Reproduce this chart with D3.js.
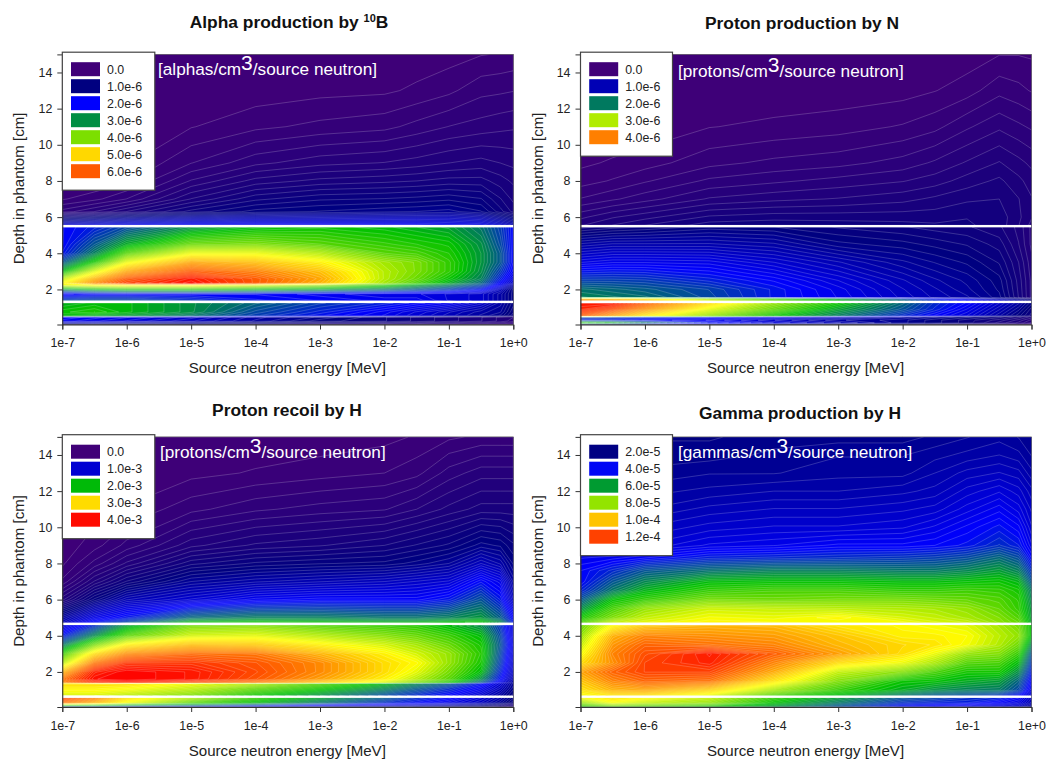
<!DOCTYPE html>
<html>
<head>
<meta charset="utf-8">
<script src="https://cdn.jsdelivr.net/npm/d3@7"></script>
<style>
  html, body { margin: 0; background: #fff; }
  svg { display: block; font-family: "Liberation Sans", Arial, sans-serif; }
  .axis text { font-size: 12.4px; fill: #222; }
  .axis path, .axis line { stroke: #333; stroke-width: 1; }
  .lab { font-size: 15.1px; fill: #222; }
  .title { font-size: 17.4px; font-weight: bold; fill: #111; }
  .unit { font-size: 17.2px; fill: #fff; }
  .leg { font-size: 12.4px; fill: #222; }
</style>
</head>
<body>
<svg width="1046" height="763"></svg>
<script>
// columns of every table below: log10 of the source energy [MeV]
var energyExps = [-7, -6.5, -6, -5, -4, -3, -2, -1.5, -1, -0.5, -0.2, 0];
var tickExps = [-7, -6, -5, -4, -3, -2, -1, 0];
var tickLabels = ["1e-7", "1e-6", "1e-5", "1e-4", "1e-3", "1e-2", "1e-1", "1e+0"];
var depthTicks = [2, 4, 6, 8, 10, 12, 14];

// alpha production, 1e-6 per cm3 per source neutron, one list per energy column
var alphaDepths = [15, 13, 11, 9, 8, 7, 6.3, 5.55, 5.45, 4.5, 4, 3.5, 3, 2.6, 2.35, 2.25, 2, 1.75, 1.4, 1.25, 0.75, 0.55, 0.47, 0.25, 0.05];
var alphaByEnergy = [
  [0, 0, 0, .01, .03, .14, .33, 1.6, 2.0, 2.0, 2.1, 2.6, 3.3, 4.3, 4.7, 4.6, 3.0, 1.9, 2.4, 3.2, 3.4, 3.3, 2.0, 1.9, .8],
  [0, 0, .005, .03, .07, .2, .45, 1.7, 2.2, 2.6, 2.9, 3.5, 4.5, 5.3, 5.6, 4.8, 3.3, 2.0, 2.5, 3.3, 3.5, 3.2, 1.9, 1.8, .8],
  [0, 0, .01, .06, .13, .3, .6, 1.8, 2.5, 3.2, 3.8, 4.6, 5.4, 6.0, 6.2, 4.9, 3.5, 2.0, 2.5, 3.3, 3.3, 3.1, 1.8, 1.7, .75],
  [0, .01, .07, .22, .38, .6, .85, 1.9, 3.0, 3.9, 4.6, 5.4, 6.0, 6.5, 6.6, 4.9, 3.5, 2.0, 2.3, 3.0, 3.0, 2.8, 1.6, 1.5, .7],
  [0, .03, .13, .35, .55, .8, 1.0, 1.9, 3.3, 4.0, 4.6, 5.2, 5.7, 6.0, 6.0, 4.6, 3.3, 2.0, 2.1, 2.7, 2.5, 2.4, 1.3, 1.25, .6],
  [.01, .05, .17, .42, .62, .88, 1.05, 1.9, 3.4, 3.8, 4.3, 4.8, 5.2, 5.4, 5.3, 4.2, 3.1, 1.9, 2.0, 2.4, 2.2, 2.1, 1.1, 1.0, .5],
  [.015, .06, .2, .45, .65, .9, 1.1, 1.9, 3.3, 3.6, 3.8, 4.2, 4.3, 4.3, 4.2, 3.6, 2.8, 1.8, 1.9, 2.2, 1.9, 1.85, .9, .9, .45],
  [.025, .09, .25, .48, .67, .92, 1.12, 1.9, 3.2, 3.5, 3.7, 4.0, 4.0, 3.9, 3.7, 3.2, 2.6, 1.8, 1.9, 2.05, 1.7, 1.65, .8, .8, .4],
  [.04, .13, .3, .52, .7, .95, 1.15, 1.85, 3.1, 3.4, 3.5, 3.6, 3.6, 3.4, 3.2, 2.9, 2.4, 1.7, 1.7, 1.9, 1.5, 1.45, .7, .7, .35],
  [.07, .2, .33, .55, .7, .9, 1.05, 1.8, 2.8, 3.0, 3.05, 3.05, 3.0, 2.9, 2.7, 2.5, 2.1, 1.6, 1.6, 1.6, 1.3, 1.25, .6, .6, .3],
  [.08, .21, .35, .52, .63, .75, .85, 1.6, 2.4, 2.5, 2.6, 2.6, 2.4, 2.2, 2.0, 1.9, 1.5, 1.3, 1.3, 1.3, 1.2, 1.1, .5, .5, .25],
  [.09, .22, .36, .5, .58, .65, .72, 1.4, 2.0, 2.0, 2.0, 2.0, 1.9, 1.7, 1.5, 1.3, 1.0, 1.0, 1.0, 1.0, .9, .85, .45, .4, .2]
];

// proton production by N, 1e-6
var nitroDepths = [15, 13, 11, 9, 8, 7, 6, 5.55, 5.45, 4.5, 3.5, 2.5, 2, 1.55, 1.46, 1.38, 1.25, 0.9, 0.55, 0.48, 0.3, 0.15, 0.05];
var nitroByEnergy = [
  [0, 0, 0, .04, .08, .16, .3, .36, .55, .9, 1.25, 1.7, 1.95, 2.05, 3.8, 3.9, 4.6, 4.5, 4.2, 1.8, 1.5, 2.5, 1.0],
  [0, 0, .005, .06, .11, .2, .36, .42, .6, .95, 1.3, 1.7, 1.9, 2.0, 3.7, 3.8, 4.6, 4.3, 3.8, 1.7, 1.5, 2.3, 1.0],
  [0, 0, .015, .08, .15, .24, .4, .47, .63, .95, 1.3, 1.68, 1.85, 1.95, 3.5, 3.6, 4.2, 3.9, 3.4, 1.6, 1.4, 2.0, .9],
  [0, .01, .05, .14, .22, .32, .48, .55, .7, .95, 1.28, 1.55, 1.72, 1.75, 3.0, 3.1, 3.5, 3.2, 2.9, 1.5, 1.3, 1.5, .8],
  [0, .015, .065, .17, .25, .35, .5, .56, .68, .9, 1.15, 1.4, 1.5, 1.5, 2.6, 2.7, 2.9, 2.7, 2.4, 1.3, 1.1, 1.2, .7],
  [0, .02, .08, .19, .28, .37, .5, .55, .62, .75, 1.0, 1.2, 1.28, 1.3, 2.2, 2.3, 2.4, 2.2, 2.0, 1.1, .9, 1.0, .5],
  [.005, .03, .11, .23, .31, .4, .5, .54, .58, .7, .85, 1.0, 1.05, 1.08, 1.8, 1.9, 1.9, 1.8, 1.6, .9, .8, .8, .4],
  [.01, .05, .14, .27, .34, .43, .5, .53, .55, .66, .78, .9, .95, .98, 1.5, 1.6, 1.6, 1.55, 1.4, .8, .7, .7, .35],
  [.02, .08, .2, .32, .39, .46, .52, .53, .53, .62, .72, .82, .85, .9, 1.3, 1.4, 1.4, 1.3, 1.2, .7, .6, .6, .3],
  [.05, .14, .25, .37, .43, .47, .5, .5, .48, .55, .62, .7, .72, .75, 1.0, 1.1, 1.1, 1.0, .9, .6, .5, .45, .2],
  [.05, .12, .22, .33, .38, .42, .43, .42, .4, .42, .47, .5, .51, .52, .8, .9, .9, .8, .7, .5, .4, .35, .2],
  [.045, .1, .2, .3, .34, .37, .37, .35, .3, .3, .33, .35, .35, .35, .6, .7, .7, .6, .55, .4, .3, .25, .1]
];

// proton recoil by H, 1e-3
var recoilDepths = [15, 13, 11, 9, 8, 7, 6, 5, 4.75, 4.55, 4, 3.5, 3, 2.5, 2, 1.6, 1.42, 1.38, 1.1, 0.68, 0.58, 0.3, 0.1, 0];
var recoilByEnergy = [
  [0, 0, 0, .015, .035, .1, .3, .75, .85, 1.0, 1.3, 1.7, 2.2, 2.6, 3.2, 3.5, 3.4, 3.0, 2.9, 2.7, 3.8, 3.5, 1.6, .6],
  [0, 0, .02, .07, .15, .32, .6, 1.1, 1.25, 1.4, 1.8, 2.4, 3.0, 3.5, 3.9, 4.0, 3.8, 3.0, 2.9, 2.7, 3.5, 3.2, 1.6, .6],
  [0, .005, .05, .15, .28, .5, .85, 1.3, 1.5, 1.9, 2.3, 2.9, 3.4, 3.8, 4.05, 4.05, 3.9, 3.0, 2.85, 2.6, 3.0, 2.8, 1.5, .6],
  [.005, .03, .12, .3, .48, .72, 1.0, 1.65, 2.0, 2.4, 2.7, 3.15, 3.55, 3.8, 3.95, 3.95, 3.7, 2.8, 2.65, 2.4, 2.6, 2.3, 1.4, .5],
  [.01, .05, .17, .37, .55, .8, 1.15, 1.75, 2.05, 2.45, 2.75, 3.1, 3.5, 3.65, 3.7, 3.65, 3.45, 2.6, 2.35, 2.05, 2.2, 2.0, 1.2, .5],
  [.015, .07, .2, .4, .58, .85, 1.2, 1.75, 2.0, 2.3, 2.6, 2.9, 3.2, 3.4, 3.4, 3.3, 3.1, 2.3, 2.1, 1.8, 1.9, 1.7, 1.0, .4],
  [.03, .09, .22, .45, .6, .9, 1.2, 1.7, 1.95, 2.2, 2.45, 2.7, 2.9, 3.0, 3.0, 2.9, 2.7, 2.0, 1.8, 1.5, 1.6, 1.4, .9, .4],
  [.05, .12, .27, .5, .65, .95, 1.2, 1.7, 1.95, 2.15, 2.35, 2.55, 2.7, 2.85, 2.75, 2.6, 2.4, 1.8, 1.6, 1.35, 1.4, 1.25, .8, .3],
  [.08, .2, .33, .55, .72, 1.0, 1.3, 1.75, 2.0, 2.0, 2.2, 2.35, 2.5, 2.5, 2.4, 2.3, 2.1, 1.6, 1.4, 1.2, 1.25, 1.1, .7, .3],
  [.1, .25, .38, .65, .9, 1.25, 1.55, 1.85, 2.05, 1.8, 2.0, 2.1, 2.15, 2.1, 2.0, 1.8, 1.6, 1.3, 1.15, .95, 1.0, .9, .6, .2],
  [.1, .25, .38, .62, .8, 1.1, 1.3, 1.6, 1.8, 1.4, 1.5, 1.55, 1.5, 1.45, 1.35, 1.25, 1.1, 1.0, .9, .75, .8, .7, .4, .2],
  [.1, .25, .38, .55, .62, .75, .9, 1.2, 1.3, 1.0, 1.0, 1.05, 1.0, .95, .9, .8, .75, .7, .65, .55, .6, .5, .3, .1]
];

// gamma production by H, 1e-5
var gammaDepths = [15, 14, 13, 12, 11, 10, 9, 8.3, 7.6, 7, 6.5, 6, 5.5, 5, 4.75, 4.55, 4, 3.5, 3, 2.5, 2, 1.5, 1, 0.68, 0.58, 0.3, 0.1, 0];
var gammaByEnergy = [
  [1.9, 2, 2.1, 2.2, 2.4, 2.7, 3, 3.6, 3.9, 3.9, 4.3, 5, 5.8, 6.7, 7.2, 7.5, 8, 8.5, 9, 9.6, 10.5, 10, 9.5, 9, 9, 8, 7, 6],
  [2, 2.1, 2.2, 2.3, 2.5, 2.8, 3.1, 3.7, 4.4, 5.0, 5.5, 6.5, 7.2, 7.8, 8.4, 9.2, 10.3, 10.7, 11, 10.8, 11.5, 11, 10.3, 9.5, 9.5, 9, 7.5, 6],
  [2, 2.1, 2.2, 2.4, 2.6, 2.9, 3.2, 3.9, 5, 5.7, 6.3, 7, 8, 8.5, 8.8, 10, 11, 11.5, 11.8, 12, 12, 11.5, 10.5, 9.5, 9.2, 8.5, 7.3, 6],
  [2, 2.1, 2.3, 2.5, 2.8, 3.1, 3.5, 4.3, 5.4, 6.4, 7, 7.7, 8.6, 9, 9.2, 10.3, 10.8, 11.3, 12.6, 12.5, 12, 11.3, 9.8, 8.8, 8.5, 8, 6.8, 5.5],
  [2.1, 2.2, 2.3, 2.6, 2.9, 3.2, 3.6, 4.4, 5.6, 6.5, 7.2, 7.6, 8.5, 8.9, 9.1, 10.2, 10.6, 11, 11.6, 11, 10.4, 9.5, 8.2, 7.2, 7, 6.5, 6, 5],
  [2.1, 2.3, 2.4, 2.6, 2.9, 3.2, 3.8, 4.5, 5.6, 6.5, 7.2, 7.7, 8.4, 9.2, 9, 9.5, 10, 10.2, 10.6, 9.6, 8.5, 7.8, 7, 6.3, 6, 5.5, 5, 4],
  [2.1, 2.3, 2.4, 2.7, 3, 3.3, 3.8, 4.6, 5.5, 6.4, 7, 7.7, 8.3, 8.7, 9, 9.2, 9.3, 9.7, 9.6, 8.9, 7.8, 6.6, 6.2, 5.4, 5, 4.5, 4, 3],
  [2.2, 2.4, 2.6, 2.8, 3.1, 3.5, 3.9, 4.7, 5.5, 6.4, 7, 7.6, 8.2, 8.5, 8.7, 9, 9.3, 9.5, 8.9, 8.2, 7.2, 6.5, 5.8, 5, 4.8, 4.3, 3.8, 3],
  [2.3, 2.5, 2.8, 3.1, 3.4, 3.8, 4.1, 4.9, 5.7, 6.5, 7.1, 7.5, 8, 8.2, 8.5, 8.8, 9.1, 9.0, 8.0, 7.3, 6.7, 6.2, 5.6, 4.8, 4.5, 4.2, 3.5, 2.8],
  [2.4, 2.6, 2.9, 3.3, 3.7, 4.1, 4.5, 5.3, 6, 6.6, 7, 7.3, 7.5, 7.8, 7.9, 8.2, 8.4, 8.3, 7.8, 7.2, 6.7, 6, 5.5, 4.5, 4.3, 3.8, 3.3, 2.5],
  [2.3, 2.5, 2.8, 3.1, 3.4, 3.8, 4.2, 4.9, 5.6, 6.3, 6.7, 6.9, 7, 7.3, 7.5, 7.7, 8, 7.6, 7, 6.4, 5.8, 5.2, 4.8, 4, 3.8, 3.4, 3, 2.3],
  [2.2, 2.3, 2.5, 2.8, 3.0, 3.2, 3.5, 3.9, 4.5, 5, 5.5, 5.7, 5.9, 6, 6.1, 6.5, 6.4, 5.7, 5, 4.6, 4.2, 3.8, 3.5, 3, 2.9, 2.7, 2.3, 1.9]
];

var alphaLegend = [0, 1, 2, 3, 4, 5, 6];
var alphaLegendText = ["0.0", "1.0e-6", "2.0e-6", "3.0e-6", "4.0e-6", "5.0e-6", "6.0e-6"];
var nitroLegend = [0, 1, 2, 3, 4];
var nitroLegendText = ["0.0", "1.0e-6", "2.0e-6", "3.0e-6", "4.0e-6"];
var recoilLegend = [0, 1, 2, 3, 4];
var recoilLegendText = ["0.0", "1.0e-3", "2.0e-3", "3.0e-3", "4.0e-3"];
var gammaLegend = [2, 4, 6, 8, 10, 12];
var gammaLegendText = ["2.0e-5", "4.0e-5", "6.0e-5", "8.0e-5", "1.0e-4", "1.2e-4"];

var svg = d3.select("svg");
var LEVELS = 90;

// rainbow shared by all panels, input is value / panel maximum
var rainbow = d3.scaleLinear()
    .domain([0, .15, .3, .5, .7, 1])
    .range(["#400078", "#000080", "#0000ff", "#00c000", "#ffff00", "#ff0000"])
    .clamp(true);

var panels = [
  {title: ["Alpha production by ", "10", "B"], unit: ["[alphas/cm", "/source neutron]"], depths: alphaDepths, cols: alphaByEnergy,
   max: 6.7, cuts: [5.5, 1.31], legend: alphaLegend, legendText: alphaLegendText,
   left: 62.3, top: 54.4, titleX: 289, titleY: 28, unitX: 158, unitY: 75, legW: 92.5},
  {title: ["Proton production by N"], unit: ["[protons/cm", "/source neutron]"], depths: nitroDepths, cols: nitroByEnergy,
   max: 4.7, cuts: [5.5, 1.31], legend: nitroLegend, legendText: nitroLegendText,
   left: 580.5, top: 54.4, titleX: 802, titleY: 28.5, unitX: 678, unitY: 77, legW: 92},
  {title: ["Proton recoil by H"], unit: ["[protons/cm", "/source neutron]"], depths: recoilDepths, cols: recoilByEnergy,
   max: 4.05, cuts: [4.66, 0.63], legend: recoilLegend, legendText: recoilLegendText,
   left: 62.3, top: 436.9, titleX: 287, titleY: 415.5, unitX: 160, unitY: 458, legW: 92.5},
  {title: ["Gamma production by H"], unit: ["[gammas/cm", "/source neutron]"], depths: gammaDepths, cols: gammaByEnergy,
   max: 13, cuts: [4.66, 0.63], legend: gammaLegend, legendText: gammaLegendText,
   left: 580.5, top: 436.9, titleX: 800, titleY: 419, unitX: 678, unitY: 458, legW: 92}
];

var plotW = 451, plotH = 270.1;

panels.forEach(function(p) {
  var g = svg.append("g").attr("transform", "translate(" + p.left + "," + p.top + ")");
  var x = d3.scaleLinear().domain([-7, 0]).range([0, plotW]);
  var y = d3.scaleLinear().domain([0.06, 15]).range([plotH, 0]).clamp(true);

  var nx = energyExps.length, ny = p.depths.length;
  var values = new Array(nx * ny);
  p.cols.forEach(function(col, i) {
    col.forEach(function(v, j) { values[j * nx + i] = v; });
  });

  // d3.contours puts a grid value at index + 0.5
  var colToExp = d3.scaleLinear().domain(energyExps.map(function(d, i) { return i + .5; })).range(energyExps).clamp(true);
  var rowToDepth = d3.scaleLinear().domain(p.depths.map(function(d, i) { return i + .5; })).range(p.depths).clamp(true);
  var path = d3.geoPath(d3.geoTransform({
    point: function(cx, cy) { this.stream.point(x(colToExp(cx)), y(rowToDepth(cy))); }
  }));

  var levels = d3.range(LEVELS).map(function(i) { return p.max * i / LEVELS; });
  var contours = d3.contours().size([nx, ny]).smooth(true).thresholds(levels)(values);

  g.append("rect").attr("width", plotW).attr("height", plotH).attr("fill", rainbow(0));
  g.append("g").selectAll("path")
    .data(contours)
    .enter().append("path")
      .attr("d", path)
      .attr("fill", function(d) { return rainbow((d.value + p.max / LEVELS / 2) / p.max); })
      .attr("stroke", "#fff")
      .attr("stroke-opacity", .38)
      .attr("stroke-width", .5);

  // white gaps between the phantom regions
  g.selectAll(".cut")
    .data(p.cuts)
    .enter().append("rect")
      .attr("class", "cut")
      .attr("x", 0).attr("width", plotW)
      .attr("y", function(d) { return y(d) - 1.2; })
      .attr("height", 2.4)
      .attr("fill", "#fff");

  // thin frame, the axes sit on top of it
  g.append("rect").attr("width", plotW).attr("height", plotH)
    .attr("fill", "none").attr("stroke", "#555").attr("stroke-width", .6);

  g.append("g").attr("class", "axis")
    .attr("transform", "translate(0," + plotH + ")")
    .call(d3.axisBottom(x).tickValues(tickExps).tickSize(5).tickPadding(9)
      .tickFormat(function(d, i) { return tickLabels[i]; }));
  g.append("g").attr("class", "axis")
    .call(d3.axisLeft(y).tickValues(depthTicks).tickSize(5).tickPadding(5).tickFormat(d3.format("d")));

  g.append("text").attr("class", "lab")
    .attr("x", plotW / 2 - 0.5).attr("y", plotH + 49)
    .attr("text-anchor", "middle")
    .text("Source neutron energy [MeV]");
  g.append("text").attr("class", "lab")
    .attr("transform", "translate(-38," + (plotH / 2 - 1) + ") rotate(-90)")
    .attr("text-anchor", "middle")
    .text("Depth in phantom [cm]");

  // title, with a raised part when the list has three pieces
  var t = svg.append("text").attr("class", "title")
    .attr("x", p.titleX).attr("y", p.titleY).attr("text-anchor", "middle");
  t.append("tspan").text(p.title[0]);
  if (p.title.length > 1) {
    t.append("tspan").attr("dy", -6).style("font-size", "11px").text(p.title[1]);
    t.append("tspan").attr("dy", 6).text(p.title[2]);
  }

  var u = svg.append("text").attr("class", "unit").attr("x", p.unitX).attr("y", p.unitY);
  u.append("tspan").text(p.unit[0]);
  u.append("tspan").attr("dy", -5).style("font-size", "21px").text("3");
  u.append("tspan").attr("dy", 5).text(p.unit[1]);

  // legend box
  var lg = svg.append("g").attr("transform", "translate(" + p.left + "," + (p.top - 2.2) + ")");
  lg.append("rect")
    .attr("width", p.legW).attr("height", 19 + p.legend.length * 17)
    .attr("fill", "#fff").attr("stroke", "#444").attr("stroke-width", 1.2);
  var row = lg.selectAll(".row")
    .data(p.legend)
    .enter().append("g")
      .attr("class", "row")
      .attr("transform", function(d, i) { return "translate(8.7," + (10 + i * 17) + ")"; });
  row.append("rect").attr("width", 29).attr("height", 14)
    .attr("fill", function(d) { return rainbow(d / p.max); });
  row.append("text").attr("class", "leg")
    .attr("x", 36).attr("y", 11.5)
    .text(function(d, i) { return p.legendText[i]; });
});
</script>
</body>
</html>
